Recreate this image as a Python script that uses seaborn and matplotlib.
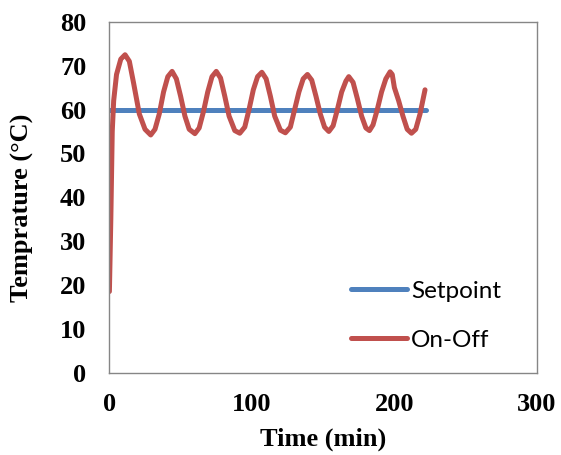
import matplotlib
matplotlib.use("Agg")
import matplotlib.pyplot as plt
import seaborn as sns
import pandas as pd

# Setpoint line
setpoint_time = [0, 222]
setpoint_temp = [60, 60]

# On-Off controller response
onoff_time = [0, 1, 2, 3, 5, 8, 11, 14, 17, 21, 25, 29, 32, 35, 38, 41, 44, 47, 50,
              53, 56, 60, 63, 66, 69, 72, 75, 78, 81, 84, 88, 91.5, 95, 98, 101,
              104, 107, 110, 113, 116, 120, 123.5, 127, 130, 133, 136, 139, 142,
              145, 148, 151, 154, 157, 160, 163, 166, 168, 171, 174, 177, 180,
              182.5, 185, 188, 191, 194, 197, 198.5, 200, 203, 206, 209, 212, 215,
              218, 221.5]
onoff_temp = [18.5, 35, 55, 62, 68, 71.5, 72.5, 71, 66, 59, 55.5, 54.2, 55.5, 59, 64,
              67.5, 68.7, 67, 63, 58.5, 55.5, 54.5, 55.8, 59.5, 64, 67.5, 68.7, 67.2,
              63, 58.5, 55.2, 54.6, 56, 60, 64.5, 67.5, 68.5, 67, 63, 58.5, 55.3,
              54.7, 56, 60, 64, 67, 68, 66.7, 63, 59, 56, 55, 56.3, 60, 64, 66.5,
              67.5, 66.2, 62.5, 58.5, 55.8, 55.2, 56.5, 60, 64, 67, 68.6, 68, 65,
              62, 58.5, 55.5, 54.6, 55.5, 59, 64.5]

df = pd.concat([
    pd.DataFrame({"Time": setpoint_time, "Temp": setpoint_temp, "series": "Setpoint"}),
    pd.DataFrame({"Time": onoff_time, "Temp": onoff_temp, "series": "On-Off"}),
])

sns.set_style("white")
plt.rcParams["text.color"] = "black"
plt.rcParams["axes.labelcolor"] = "black"
plt.rcParams["xtick.color"] = "black"
plt.rcParams["ytick.color"] = "black"

fig = plt.figure(figsize=(5.61, 4.55), dpi=100)
ax = fig.add_axes([0.195, 0.181, 0.762, 0.771])

palette = {"Setpoint": "#4F81BD", "On-Off": "#C0504D"}
sns.lineplot(data=df, x="Time", y="Temp", hue="series", palette=palette,
             linewidth=3.6, sort=False, estimator=None, ax=ax,
             solid_joinstyle="round", solid_capstyle="round")

ax.set_xlim(0, 300)
ax.set_ylim(0, 80)
ax.set_xticks([0, 100, 200, 300])
ax.set_yticks(range(0, 81, 10))

tick_font = dict(family="Liberation Serif", weight="bold", size=19)
ax.set_xticklabels(["0", "100", "200", "300"], fontdict=tick_font)
ax.set_yticklabels([str(v) for v in range(0, 81, 10)], fontdict=tick_font)
ax.tick_params(axis="x", length=0, pad=15, colors="black")
ax.tick_params(axis="y", length=0, pad=16.5, colors="black")

ax.set_xlabel("Time (min)", family="Liberation Serif", weight="bold", size=19,
              va="center", ha="center", color="black")
ax.set_ylabel("Temprature (°C)", family="Liberation Serif", weight="bold", size=19,
              va="center", ha="center", color="black")
ax.xaxis.set_label_coords(0.5, -0.191)
ax.yaxis.set_label_coords(-0.204, 0.47)

for s in ax.spines.values():
    s.set_color("#868686")
    s.set_linewidth(1.0)

leg = ax.legend(loc="lower left", bbox_to_anchor=(0.515, 0.0), frameon=False,
                prop={"family": "Lato", "size": 17.5}, handlelength=2.3,
                handletextpad=0.15, labelspacing=1.15)
for t in leg.get_texts():
    t.set_color("black")

fig.savefig("out.png", dpi=100)
